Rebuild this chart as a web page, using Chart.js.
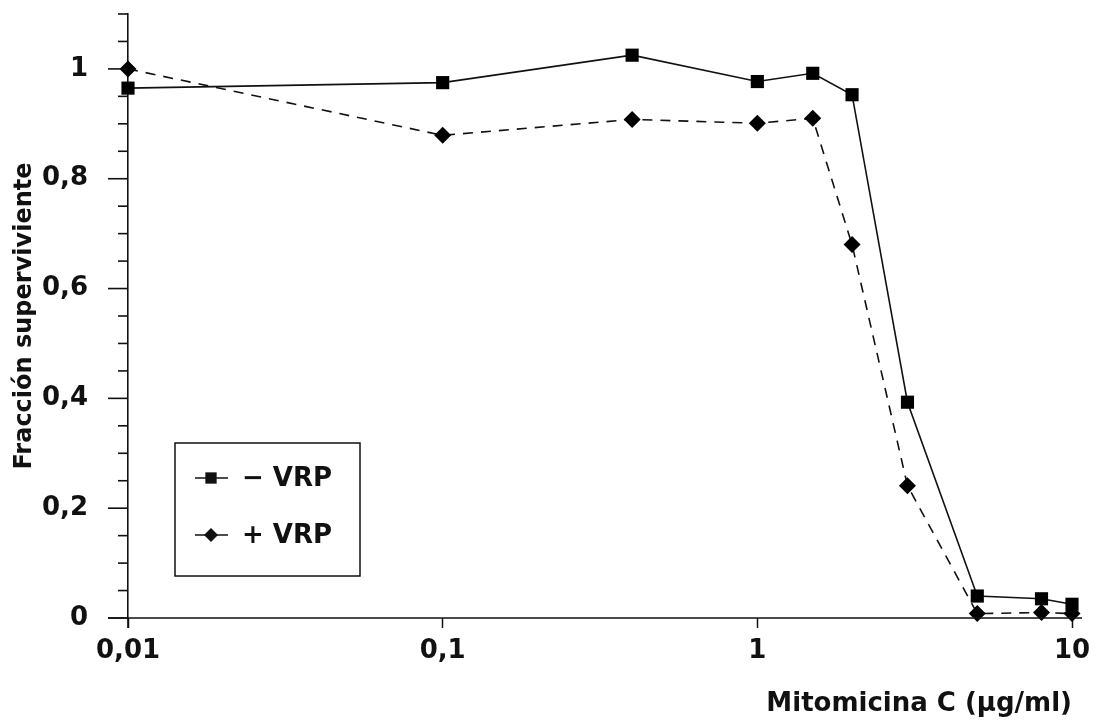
<!DOCTYPE html>
<html>
<head>
<meta charset="utf-8">
<script src="https://cdn.jsdelivr.net/npm/chart.js@4.4.1/dist/chart.umd.min.js"></script>
<style>
html, body { margin: 0; padding: 0; background: #fff; }
#wrap { width: 1097px; height: 724px; }
</style>
</head>
<body>
<div id="wrap"><canvas id="myChart"></canvas></div>
<script>
// Mitomicina C doses (ug/ml) and surviving fraction
const doses = [0.01, 0.1, 0.4, 1, 1.5, 2, 3, 5, 8, 10];
const minusVRP = [0.965, 0.975, 1.025, 0.977, 0.992, 0.953, 0.393, 0.04, 0.035, 0.025];
const plusVRP = [1.0, 0.879, 0.908, 0.901, 0.91, 0.68, 0.241, 0.008, 0.01, 0.008];
const xTicks = [0.01, 0.1, 1, 10];
const seriesLabels = ['\u2212 VRP', '+ VRP'];

const INK = '#111';
const FONT = '"DejaVu Sans", "Liberation Sans", sans-serif';

function marker(ctx, style, x, y, r) {
	ctx.beginPath();
	if (style === 'rect') {
		const s = r * Math.SQRT1_2;
		ctx.rect(x - s, y - s, 2 * s, 2 * s);
	} else {
		ctx.moveTo(x, y - r);
		ctx.lineTo(x + r, y);
		ctx.lineTo(x, y + r);
		ctx.lineTo(x - r, y);
		ctx.closePath();
	}
	ctx.fill();
}

// minor/major tick marks on y, axis overhangs and the boxed legend
const decor = {
	id: 'decor',
	afterDraw(chart) {
		const { ctx, chartArea: a, scales: { x, y } } = chart;
		ctx.save();
		ctx.strokeStyle = INK;
		ctx.fillStyle = INK;
		ctx.lineWidth = 1.6;

		y.ticks.forEach(t => {
			const py = y.getPixelForValue(t.value);
			const major = Math.round(t.value * 100) % 20 === 0;
			ctx.beginPath();
			ctx.moveTo(a.left - (major ? 20 : 10), py);
			ctx.lineTo(a.left, py);
			ctx.stroke();
		});

		// axis lines run a little past each other
		ctx.beginPath();
		ctx.moveTo(a.left - 20, a.bottom);
		ctx.lineTo(a.right + 10, a.bottom);
		ctx.moveTo(a.left, a.bottom);
		ctx.lineTo(a.left, a.bottom + 10);
		ctx.stroke();

		// legend
		const bx = a.left + 47, by = a.bottom - 175, bw = 185, bh = 133;
		ctx.lineWidth = 1.5;
		ctx.strokeRect(bx, by, bw, bh);
		ctx.font = 'bold 26px ' + FONT;
		ctx.textBaseline = 'middle';
		chart.data.datasets.forEach((ds, i) => {
			const ly = by + 35 + i * 57;
			ctx.beginPath();
			ctx.lineWidth = 1.5;
			ctx.moveTo(bx + 20, ly);
			ctx.lineTo(bx + 53, ly);
			ctx.stroke();
			marker(ctx, ds.pointStyle, bx + 36, ly, ds.pointStyle === 'rect' ? 8 : 7);
			ctx.fillText(ds.label, bx + 67, ly + 1);
		});
		ctx.restore();
	}
};

const ctx = document.getElementById('myChart').getContext('2d');
new Chart(ctx, {
	type: 'line',
	data: {
		datasets: [
			{
				label: seriesLabels[0],
				data: doses.map((d, i) => ({ x: d, y: minusVRP[i] })),
				borderColor: INK,
				borderWidth: 1.6,
				pointStyle: 'rect',
				pointRadius: 9.3,
				pointBackgroundColor: '#000',
				pointBorderWidth: 0,
				tension: 0
			},
			{
				label: seriesLabels[1],
				data: doses.map((d, i) => ({ x: d, y: plusVRP[i] })),
				borderColor: INK,
				borderWidth: 1.6,
				borderDash: [10, 8],
				pointStyle: 'rectRot',
				pointRadius: 8.5,
				pointBackgroundColor: '#000',
				pointBorderWidth: 0,
				tension: 0
			}
		]
	},
	options: {
		responsive: true,
		maintainAspectRatio: false,
		animation: false,
		clip: false,
		layout: { padding: { top: 14, right: 25, left: 0, bottom: 0 } },
		plugins: {
			legend: { display: false },
			tooltip: { enabled: false }
		},
		scales: {
			x: {
				type: 'logarithmic',
				min: 0.01,
				max: 10,
				afterBuildTicks: scale => { scale.ticks = xTicks.map(v => ({ value: v })); },
				afterFit: scale => {
					scale.height = 106;
					scale.paddingLeft = 0;
					scale.paddingRight = 0;
				},
				border: { display: false },
				grid: { drawOnChartArea: false, tickLength: 10, tickColor: INK, tickWidth: 1.5 },
				ticks: {
					autoSkip: false,
					maxRotation: 0,
					padding: 8,
					color: INK,
					font: { family: FONT, size: 26, weight: 'bold' },
					callback: v => String(v).replace('.', ',')
				},
				title: {
					display: true,
					text: 'Mitomicina C (\u00b5g/ml)',
					align: 'end',
					color: INK,
					padding: { top: 0, bottom: 4 },
					font: { family: FONT, size: 26, weight: 'bold' }
				}
			},
			y: {
				min: 0,
				max: 1.1,
				afterFit: scale => {
					scale.width = 128;
					scale.paddingTop = 0;
					scale.paddingBottom = 0;
				},
				border: { display: true, color: INK, width: 1.6 },
				grid: { display: false },
				ticks: {
					stepSize: 0.05,
					autoSkip: false,
					padding: 32,
					color: INK,
					font: { family: FONT, size: 26, weight: 'bold' },
					callback: v => {
						const k = Math.round(v * 100);
						if (k % 20 !== 0) return '';
						return String(k / 100).replace('.', ',');
					}
				},
				title: {
					display: true,
					text: 'Fracción superviviente',
					color: INK,
					padding: { top: 10, bottom: 0 },
					font: { family: FONT, size: 24, weight: 'bold' }
				}
			}
		}
	},
	plugins: [decor]
});
</script>
</body>
</html>
